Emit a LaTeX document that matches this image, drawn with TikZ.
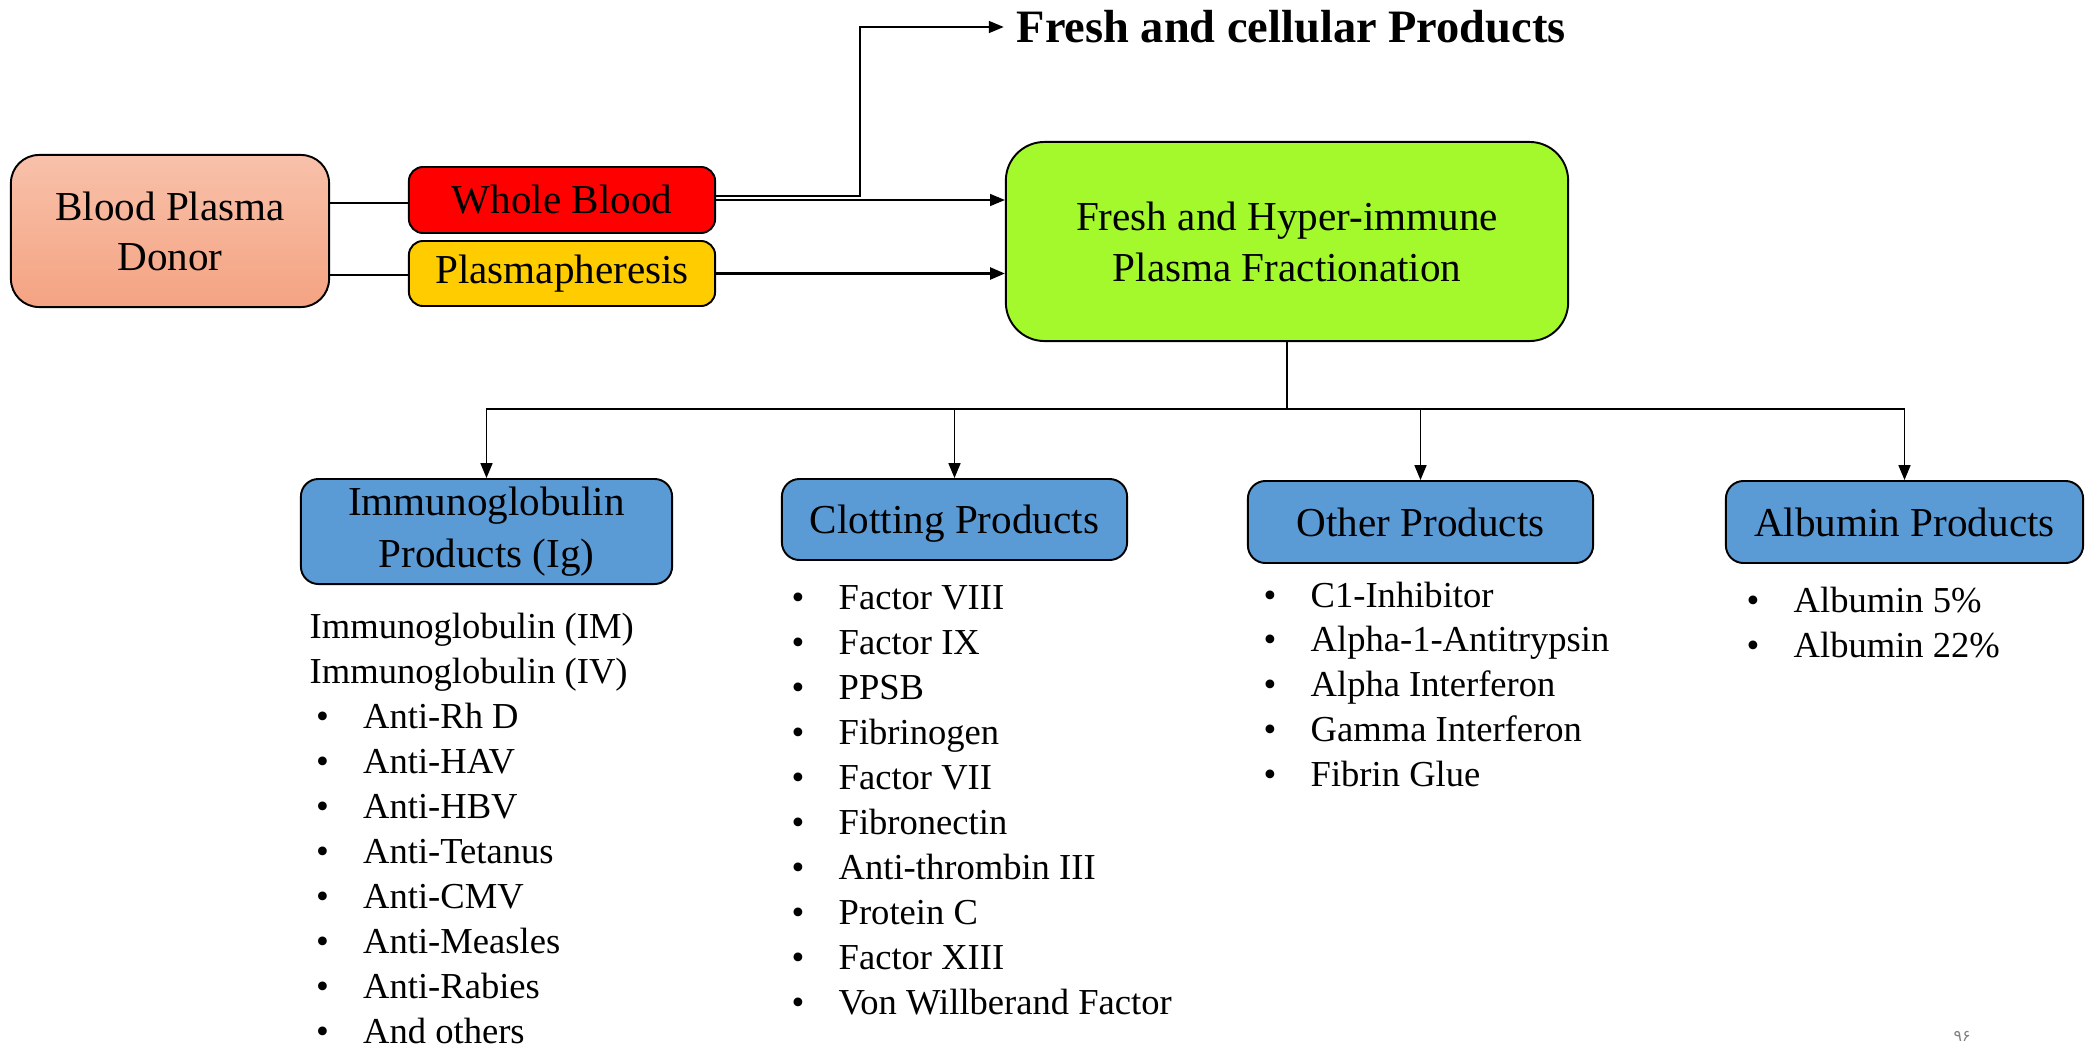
\documentclass[tikz,border=0pt]{standalone}
\usepackage{fontspec}
\setmainfont{Liberation Serif}
\newfontfamily\arabicfont[Script=Arabic]{DejaVu Sans}
\usetikzlibrary{arrows.meta}
\definecolor{donorTop}{RGB}{248,193,170}
\definecolor{donorBot}{RGB}{244,163,130}
\definecolor{wbRed}{RGB}{255,0,0}
\definecolor{plYellow}{RGB}{255,204,0}
\definecolor{frGreen}{RGB}{164,249,45}
\definecolor{prBlue}{RGB}{91,155,213}
\newcommand\bul[1]{\makebox[0.47cm][l]{•}#1}
\tikzset{
  box/.style={draw=black, line width=0.55pt, inner sep=0pt, align=center,
    font=\fontsize{11.7}{13.7}\selectfont},
  bluebox/.style={box, fill=prBlue, rounded corners=5pt},
  item/.style={anchor=base west, inner sep=0pt, font=\fontsize{10.4}{12.8}\selectfont},
  conn/.style={line width=0.4pt},
  arr/.style={line width=0.4pt, -{Triangle[length=4.2pt,width=3.4pt]}},
}
\begin{document}
\begin{tikzpicture}[x=0.01cm, y=-0.01cm]
\useasboundingbox (0,0) rectangle (2096,1045);

% top row
\node[box, rounded corners=8pt, top color=donorTop, bottom color=donorBot,
      minimum width=3.18cm, minimum height=1.52cm,
      font=\fontsize{11.7}{14.2}\selectfont] (donor) at (170,231)
      {Blood Plasma\\Donor};
\node[box, fill=wbRed, rounded corners=4pt, minimum width=3.06cm, minimum height=0.66cm]
      (wb) at (562,200) {Whole Blood};
\node[box, fill=plYellow, rounded corners=4pt, minimum width=3.06cm, minimum height=0.65cm]
      (pl) at (562,273.5) {Plasmapheresis};
\node[box, fill=frGreen, rounded corners=11pt, minimum width=5.62cm, minimum height=1.99cm,
      font=\fontsize{11.7}{14.5}\selectfont]
      (fr) at (1287,241.5) {Fresh and Hyper-immune\\Plasma Fractionation};
\node[anchor=west, inner sep=0pt, font=\fontsize{13.2}{15}\selectfont\bfseries]
      (fresh) at (1016,27) {Fresh and cellular Products};

% product boxes
\node[bluebox, minimum width=3.71cm, minimum height=1.05cm,
      font=\fontsize{11.7}{14.6}\selectfont] (ig) at (486.5,531.5)
      {Immunoglobulin\\Products (Ig)};
\node[bluebox, minimum width=3.45cm, minimum height=0.81cm, text depth=0pt] (cl) at (954.5,519.5)
      {Clotting Products};
\node[bluebox, minimum width=3.45cm, minimum height=0.82cm, text depth=0pt] (ot) at (1420.5,522)
      {Other Products};
\node[bluebox, minimum width=3.57cm, minimum height=0.82cm, text depth=0pt] (al) at (1904.5,522)
      {Albumin Products};

% connectors top row
\draw[line width=0.7pt] (donor.east |- 0,203) -- (wb.west |- 0,203);
\draw[line width=0.7pt] (donor.east |- 0,275) -- (pl.west |- 0,275);
\draw[arr] (wb.east) -- (fr.west |- wb.east);
\draw[arr, line width=0.7pt] (pl.east) -- (fr.west |- pl.east);
\coordinate (up) at (860,27);
\draw[arr] ([yshift=1.1pt]wb.east) -| (up) -- ([xshift=-3.5pt]fresh.west);

% bus to products
\coordinate (bus) at (1287,409);
\draw[conn] (fr.south) -- (bus);
\draw[arr] (bus) -| (ig.north);
\draw[arr] (bus) -| (cl.north);
\draw[arr] (bus) -| (ot.north);
\draw[arr] (bus) -| (al.north);

% Ig list
\node[item] (igim) at (309,638) {Immunoglobulin (IM)};
\node[item] (igiv) at (309,683) {Immunoglobulin (IV)};
\foreach \t [count=\i] in {Anti-Rh D, Anti-HAV, Anti-HBV, Anti-Tetanus, Anti-CMV,
    Anti-Measles, Anti-Rabies, And others}
  \node[item] (igb\i) at (315.5,{683+45*\i}) {\bul{\t}};

% Clotting list
\foreach \t [count=\i from 0] in {Factor VIII, Factor IX, PPSB, Fibrinogen, Factor VII,
    Fibronectin, Anti-thrombin III, Protein C, Factor XIII, Von Willberand Factor}
  \node[item] (clb\i) at (791,{609.5+45*\i}) {\bul{\t}};

% Other list
\foreach \t [count=\i from 0] in {C1-Inhibitor, Alpha-1-Antitrypsin, Alpha Interferon,
    Gamma Interferon, Fibrin Glue}
  \node[item] (otb\i) at (1263,{607+44.8*\i}) {\bul{\t}};

% Albumin list
\foreach \t [count=\i from 0] in {Albumin 5\%, Albumin 22\%}
  \node[item] (alb\i) at (1746,{612+45.3*\i}) {\bul{\t}};

% page number
\node[inner sep=0pt, text=gray, font=\arabicfont\fontsize{4.5}{5}\selectfont]
  (pg) at (1962,1036) {۹۶};
\end{tikzpicture}
\end{document}
